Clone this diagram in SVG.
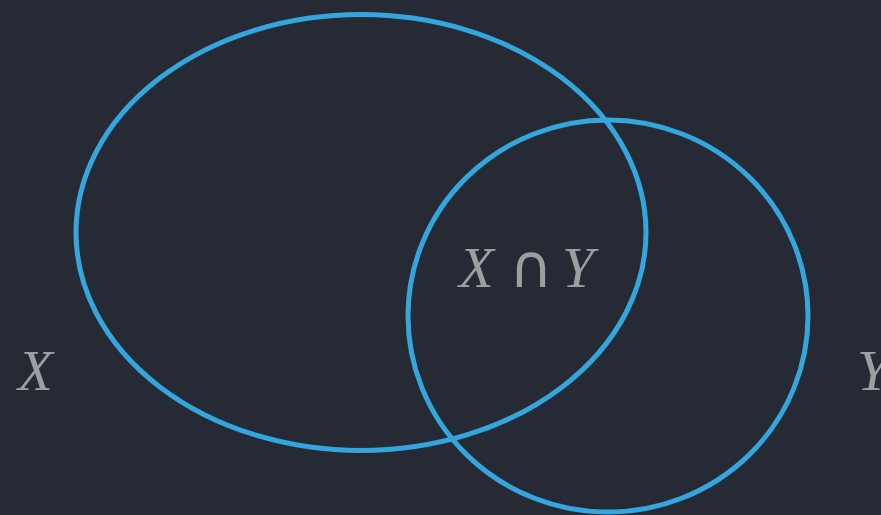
<svg xmlns="http://www.w3.org/2000/svg" width="881" height="515" viewBox="0 0 881 515">
<style>
.set{fill:none;stroke:#33a6dd;stroke-width:5}
.lbl{font-family:"Liberation Serif",serif;font-style:italic;font-size:57px;fill:#9c9f9f}
.op{font-family:"DejaVu Sans",sans-serif;font-style:normal;font-size:60px;fill:#9c9f9f}
</style>
<rect width="881" height="515" fill="#262a35"/>
<g id="setX"><ellipse class="set" cx="361" cy="232.5" rx="285" ry="218"/></g>
<g id="setY"><ellipse class="set" cx="608" cy="316" rx="200" ry="196"/></g>
<g id="labels">
<text class="lbl" x="18" y="390">X</text>
<text class="lbl" x="857" y="390">Y</text>
<text class="lbl" x="459" y="287">X</text>
<text class="op" x="509" y="287">∩</text>
<text class="lbl" x="562" y="287">Y</text>
</g>
</svg>
